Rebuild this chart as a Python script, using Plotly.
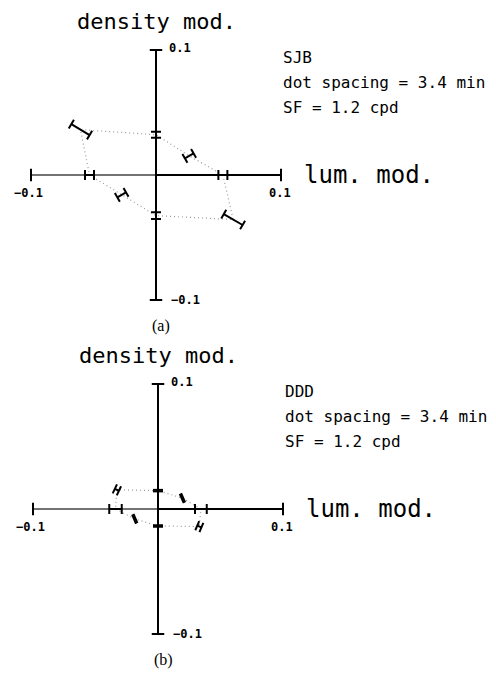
import numpy as np
import plotly.graph_objects as go

# Threshold contours in the (luminance modulation, density modulation) plane.
# Each direction: angle in degrees, threshold radius, half-length of the error bar.
angles_a = [0, 30, 90, 149, 180, 210, 270, 330]
radius_a = [0.0535, 0.0307, 0.0322, 0.0705, 0.0532, 0.0317, 0.0325, 0.0713]
err_a = [0.0036, 0.0040, 0.0024, 0.0085, 0.0036, 0.0040, 0.0027, 0.0087]

angles_b = [0, 24, 90, 155, 180, 203, 270, 337]
radius_b = [0.0343, 0.0214, 0.0147, 0.0363, 0.0340, 0.0202, 0.0136, 0.0359]
err_b = [0.0047, 0.0006, 0.0006, 0.0018, 0.0050, 0.0006, 0.0006, 0.0018]

subjects = ["SJB", "DDD"]
condition_lines = ["dot spacing = 3.4 min", "SF = 1.2 cpd"]
panel_tags = ["(a)", "(b)"]
axis_limit = 0.1

CAP = 0.004       # half-length of error-bar caps
END_TICK = 0.005  # half-length of axis end ticks
MONO = "DejaVu Sans Mono"

fig = go.Figure()


def segs(pairs):
    xs, ys = [], []
    for (x0, y0), (x1, y1) in pairs:
        xs += [x0, x1, None]
        ys += [y0, y1, None]
    return xs, ys


def add_panel(idx, angles, radius, err, subject, tag):
    xa = "x" if idx == 0 else "x2"
    ya = "y" if idx == 0 else "y2"
    L = axis_limit

    # axes: left half of the luminance axis is drawn lighter
    xs, ys = segs([((-L, 0), (0, 0))])
    fig.add_trace(go.Scatter(x=xs, y=ys, mode="lines", xaxis=xa, yaxis=ya,
                             line=dict(color="#444", width=1.3), hoverinfo="skip"))
    xs, ys = segs([((0, 0), (L, 0)), ((0, -L), (0, L)),
                   ((-L, -END_TICK), (-L, END_TICK)), ((L, -END_TICK), (L, END_TICK)),
                   ((-END_TICK, L), (END_TICK, L)), ((-END_TICK, -L), (END_TICK, -L))])
    fig.add_trace(go.Scatter(x=xs, y=ys, mode="lines", xaxis=xa, yaxis=ya,
                             line=dict(color="black", width=2), hoverinfo="skip"))

    th = np.deg2rad(np.array(angles, dtype=float))
    r = np.array(radius)
    e = np.array(err)
    ux, uy = np.cos(th), np.sin(th)
    px, py = -uy, ux

    # dotted contour through the thresholds
    cx = list(r * ux) + [r[0] * ux[0]]
    cy = list(r * uy) + [r[0] * uy[0]]
    fig.add_trace(go.Scatter(x=cx, y=cy, mode="lines", xaxis=xa, yaxis=ya,
                             line=dict(color="#9a9a9a", width=1.2, dash="1px,3px"),
                             hoverinfo="skip"))

    # radial error bars with perpendicular caps
    pairs = []
    for i in range(len(r)):
        lo, hi = r[i] - e[i], r[i] + e[i]
        pairs.append(((lo * ux[i], lo * uy[i]), (hi * ux[i], hi * uy[i])))
        for rr in (lo, hi):
            bx, by = rr * ux[i], rr * uy[i]
            pairs.append(((bx - CAP * px[i], by - CAP * py[i]),
                          (bx + CAP * px[i], by + CAP * py[i])))
    xs, ys = segs(pairs)
    fig.add_trace(go.Scatter(x=xs, y=ys, mode="lines", xaxis=xa, yaxis=ya,
                             line=dict(color="black", width=2), hoverinfo="skip"))

    def note(x, y, text, size, xanchor="left", yanchor="middle", family=MONO):
        fig.add_annotation(x=x, y=y, xref=xa, yref=ya, text=text, showarrow=False,
                           xanchor=xanchor, yanchor=yanchor,
                           font=dict(family=family, size=size, color="black"))

    note(0, 0.1225, "density mod.", 22, xanchor="center")
    note(0.117, 0.0, "lum. mod.", 24)
    note(0.009, 0.102, "<b>0.1</b>", 12)
    note(0.010, -0.100, "<b>\u22120.1</b>", 12)
    note(-0.102, -0.0145, "<b>\u22120.1</b>", 12, xanchor="center")
    note(0.099, -0.0145, "<b>0.1</b>", 12, xanchor="center")
    note(0.100, 0.094, subject, 16)
    note(0.100, 0.074, condition_lines[0], 16)
    note(0.100, 0.054, condition_lines[1], 16)
    note(0.004, -0.121, tag, 16, xanchor="center", family="Liberation Serif")


add_panel(0, angles_a, radius_a, err_a, subjects[0], panel_tags[0])
add_panel(1, angles_b, radius_b, err_b, subjects[1], panel_tags[1])

S = 1250.0  # pixels per unit, equal on both axes
fig.update_layout(
    width=496, height=674, margin=dict(l=0, r=0, t=0, b=0),
    paper_bgcolor="white", plot_bgcolor="white", showlegend=False,
    xaxis=dict(domain=[0, 1], range=[-156 / S, 340 / S], visible=False, fixedrange=True),
    yaxis=dict(domain=[0.5, 1], range=[(175 - 337) / S, 175 / S], visible=False, fixedrange=True),
    xaxis2=dict(domain=[0, 1], range=[-158 / S, 338 / S], visible=False, fixedrange=True),
    yaxis2=dict(domain=[0, 0.5], range=[(509 - 674) / S, (509 - 337) / S], visible=False, fixedrange=True),
)

fig.write_html("out.html")
